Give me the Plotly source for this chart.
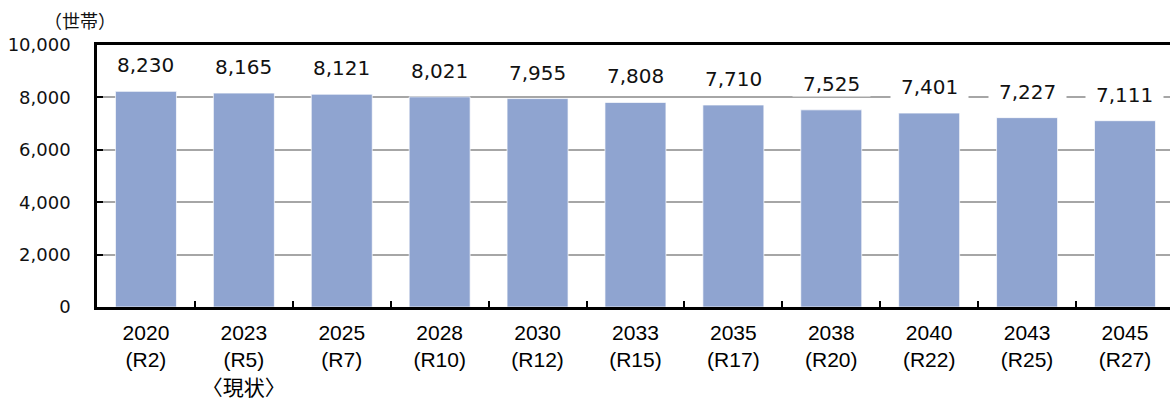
import plotly.graph_objects as go

# Households by year (actual and projected)
years = ["2020", "2023", "2025", "2028", "2030", "2033", "2035", "2038", "2040", "2043", "2045"]
eras = ["(R2)", "(R5)", "(R7)", "(R10)", "(R12)", "(R15)", "(R17)", "(R20)", "(R22)", "(R25)", "(R27)"]
notes = ["", "〈現状〉", "", "", "", "", "", "", "", "", ""]
households = [8230, 8165, 8121, 8021, 7955, 7808, 7710, 7525, 7401, 7227, 7111]

y_ticks = [0, 2000, 4000, 6000, 8000, 10000]

labels = [
    "<br>".join(p for p in (y, e, n) if p)
    for y, e, n in zip(years, eras, notes)
]

BAR = "#8FA4D0"

fig = go.Figure()
fig.add_trace(go.Bar(
    x=labels,
    y=households,
    marker=dict(color=BAR, line=dict(color="rgba(255,255,255,0.7)", width=1)),
    hoverinfo="skip",
))

# value labels on white boxes above each bar
for lab, v in zip(labels, households):
    fig.add_annotation(
        x=lab, y=v, xref="x", yref="y",
        text="\u2002" + f"{v:,}" + "\u2002",
        showarrow=False, yanchor="middle", yshift=26,
        bgcolor="white", borderpad=0,
        font=dict(family="DejaVu Sans", size=20, color="#111111"),
    )

# unit label
fig.add_annotation(
    x=-0.016, y=1.095, xref="paper", yref="paper",
    text="（世帯）", showarrow=False, xanchor="center", yanchor="middle",
    font=dict(family="Noto Sans CJK JP", size=18, color="#111111"),
)

fig.update_layout(
    width=1170, height=399,
    margin=dict(l=97, r=0, t=45, b=92),
    paper_bgcolor="white", plot_bgcolor="white",
    showlegend=False,
    bargap=0.377,
)
fig.update_xaxes(
    type="category",
    range=[-0.5, 10.46],
    automargin=False,
    showline=True, linecolor="black", linewidth=2.5, mirror=True,
    ticks="inside", tickson="boundaries", ticklen=6, tickwidth=2, tickcolor="black",
    showgrid=False,
    tickfont=dict(family="Liberation Sans, Noto Sans CJK JP", size=21, color="black"),
    ticklabelstandoff=5,
)
fig.update_yaxes(
    range=[0, 10000],
    automargin=False,
    tickvals=y_ticks,
    ticktext=[f"{t:,}" for t in y_ticks],
    showline=True, linecolor="black", linewidth=2.5,
    ticks="inside", ticklen=6, tickwidth=2, tickcolor="black",
    showgrid=True, gridcolor="#A6A6A6", gridwidth=1.5,
    zeroline=False,
    tickfont=dict(family="DejaVu Sans", size=18, color="#111111"),
    ticklabelstandoff=20,
)

fig.write_html("out.html")
